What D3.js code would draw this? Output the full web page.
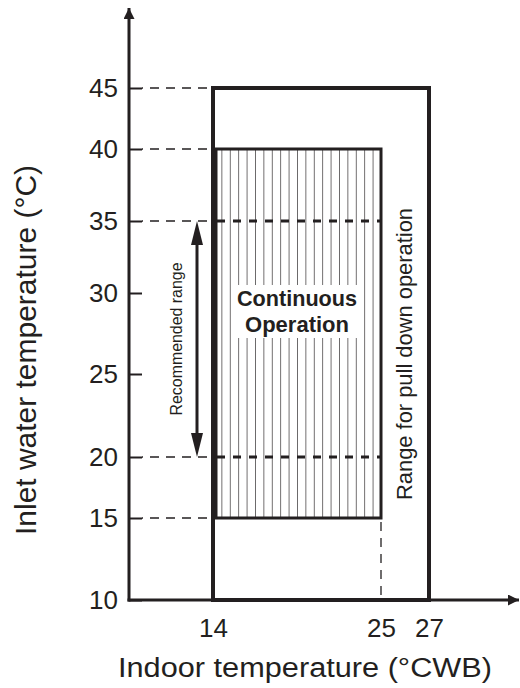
<!DOCTYPE html>
<html>
<head>
<meta charset="utf-8">
<script src="https://cdn.jsdelivr.net/npm/d3@7"></script>
<style>
  body { margin: 0; background: #fff; }
  text { font-family: Arial, "Liberation Sans", sans-serif; fill: #231f20; }
</style>
</head>
<body>
<svg id="chart"></svg>
<script>
// chart values
const yTicks = [10, 15, 20, 25, 30, 35, 40, 45];
const xTicks = [14, 25, 27];
const pullDownX = [14, 27];
const pullDownY = [10, 45];
const continuousX = [14, 25];
const continuousY = [15, 40];
const recommendedY = [20, 35];
const guideY = [45, 40, 35, 20, 15];
const guideX = [25];
const xTitle = "Indoor temperature (°CWB)";
const yTitle = "Inlet water temperature (°C)";
const continuousLabel = ["Continuous", "Operation"];
const recommendedLabel = "Recommended range";
const pullDownLabel = "Range for pull down operation";

const w = 520;
const h = 688;
const ink = "#231f20";
const originX = 129;
const originY = 600;

// the drawing's axes are not evenly spaced, so the scales are piecewise
const yScale = d3.scaleLinear()
  .domain(yTicks)
  .range([600, 518, 457, 374, 293, 221, 149, 88]);

const xScale = d3.scaleLinear()
  .domain(xTicks)
  .range([213, 381, 429]);

const svg = d3.select("#chart").attr("width", w).attr("height", h);
const defs = svg.append("defs");

defs.append("pattern")
  .attr("id", "hatch")
  .attr("patternUnits", "userSpaceOnUse")
  .attr("x", xScale(continuousX[0]))
  .attr("y", 0)
  .attr("width", (xScale(continuousX[1]) - xScale(continuousX[0])) / 20)
  .attr("height", 10)
  .append("line")
  .attr("x1", 0).attr("x2", 0)
  .attr("y1", 0).attr("y2", 10)
  .attr("stroke", ink)
  .attr("stroke-width", 1.3);

function arrowMarker(id, len, wid, back) {
  defs.append("marker")
    .attr("id", id)
    .attr("markerUnits", "userSpaceOnUse")
    .attr("viewBox", `0 0 ${len} ${wid}`)
    .attr("markerWidth", len)
    .attr("markerHeight", wid)
    .attr("refX", len - back)
    .attr("refY", wid / 2)
    .attr("orient", "auto-start-reverse")
    .append("path")
    .attr("d", `M0,0L${len},${wid / 2}L0,${wid}Z`)
    .attr("fill", ink);
}
arrowMarker("axisArrow", 11, 11, 0);
arrowMarker("rangeArrow", 24, 12, 8);

// dashed guide lines
const tickLen = 13;
svg.selectAll(".guide-out")
  .data(guideY)
  .enter()
  .append("line")
  .attr("class", "guide-out")
  .attr("x1", originX + tickLen)
  .attr("x2", xScale(pullDownX[0]))
  .attr("y1", (d) => yScale(d))
  .attr("y2", (d) => yScale(d))
  .attr("stroke", ink)
  .attr("stroke-width", 1.3)
  .attr("stroke-dasharray", "9,7")
  .attr("stroke-dashoffset", -8);

// hatched continuous region
svg.append("rect")
  .attr("x", xScale(continuousX[0]))
  .attr("y", yScale(continuousY[1]))
  .attr("width", xScale(continuousX[1]) - xScale(continuousX[0]))
  .attr("height", yScale(continuousY[0]) - yScale(continuousY[1]))
  .attr("fill", "url(#hatch)");

svg.selectAll(".guide-in")
  .data(guideY.filter((d) => d > continuousY[0] && d < continuousY[1]))
  .enter()
  .append("line")
  .attr("class", "guide-in")
  .attr("x1", xScale(continuousX[0]))
  .attr("x2", xScale(continuousX[1]))
  .attr("y1", (d) => yScale(d))
  .attr("y2", (d) => yScale(d))
  .attr("stroke", ink)
  .attr("stroke-width", 3)
  .attr("stroke-dasharray", "8,8")
  .attr("stroke-dashoffset", -4);

svg.selectAll(".guide-x")
  .data(guideX)
  .enter()
  .append("line")
  .attr("x1", (d) => xScale(d))
  .attr("x2", (d) => xScale(d))
  .attr("y1", yScale(continuousY[0]))
  .attr("y2", yScale(pullDownY[0]))
  .attr("stroke", ink)
  .attr("stroke-width", 1.3)
  .attr("stroke-dasharray", "9,7")
  .attr("stroke-dashoffset", -4);

// label on white box
const cx = (xScale(continuousX[0]) + xScale(continuousX[1])) / 2;
const labelBox = svg.append("rect").attr("fill", "#fff");
const label = svg.append("text")
  .attr("text-anchor", "middle")
  .attr("font-weight", "bold")
  .attr("font-size", 22);
label.selectAll("tspan")
  .data(continuousLabel)
  .enter()
  .append("tspan")
  .attr("x", cx)
  .attr("y", (d, i) => 306 + i * 26)
  .attr("textLength", (d, i) => (i === 0 ? 120 : 104))
  .attr("lengthAdjust", "spacingAndGlyphs")
  .text((d) => d);
const bb = label.node().getBBox();
labelBox
  .attr("x", bb.x - 4)
  .attr("y", bb.y - 1)
  .attr("width", bb.width + 8)
  .attr("height", bb.height + 2);

// outlines
svg.append("rect")
  .attr("x", xScale(pullDownX[0]))
  .attr("y", yScale(pullDownY[1]))
  .attr("width", xScale(pullDownX[1]) - xScale(pullDownX[0]))
  .attr("height", yScale(pullDownY[0]) - yScale(pullDownY[1]))
  .attr("fill", "none")
  .attr("stroke", ink)
  .attr("stroke-width", 4);

svg.append("rect")
  .attr("x", xScale(continuousX[0]))
  .attr("y", yScale(continuousY[1]))
  .attr("width", xScale(continuousX[1]) - xScale(continuousX[0]))
  .attr("height", yScale(continuousY[0]) - yScale(continuousY[1]))
  .attr("fill", "none")
  .attr("stroke", ink)
  .attr("stroke-width", 3);

svg.append("line")
  .attr("x1", xScale(continuousX[0]) + 3)
  .attr("x2", xScale(continuousX[0]) + 3)
  .attr("y1", yScale(continuousY[1]))
  .attr("y2", yScale(continuousY[0]))
  .attr("stroke", ink)
  .attr("stroke-width", 3);

// recommended range arrow
const arrowX = xScale(continuousX[0]) - 16;
svg.append("line")
  .attr("x1", arrowX).attr("x2", arrowX)
  .attr("y1", yScale(recommendedY[1]) + 8)
  .attr("y2", yScale(recommendedY[0]) - 8)
  .attr("stroke", ink)
  .attr("stroke-width", 3)
  .attr("marker-start", "url(#rangeArrow)")
  .attr("marker-end", "url(#rangeArrow)");

const recMid = (yScale(recommendedY[0]) + yScale(recommendedY[1])) / 2;
svg.append("text")
  .attr("transform", `translate(${arrowX - 15},${recMid}) rotate(-90)`)
  .attr("text-anchor", "middle")
  .attr("font-size", 16)
  .attr("textLength", 153)
  .attr("lengthAdjust", "spacingAndGlyphs")
  .text(recommendedLabel);

svg.append("text")
  .attr("transform", `translate(${xScale(continuousX[1]) + 31},354) rotate(-90)`)
  .attr("text-anchor", "middle")
  .attr("font-size", 22)
  .attr("textLength", 292)
  .attr("lengthAdjust", "spacingAndGlyphs")
  .text(pullDownLabel);

// axes
const yAxis = d3.axisLeft(yScale)
  .tickValues(yTicks)
  .tickSize(-tickLen)
  .tickPadding(11);
const gy = svg.append("g")
  .attr("transform", "translate(" + originX + ",0)")
  .call(yAxis);
gy.select(".domain").remove();
gy.selectAll(".tick line").attr("stroke", ink).attr("stroke-width", 2);
gy.selectAll(".tick text").attr("font-size", 26).attr("fill", ink);

const xAxis = d3.axisBottom(xScale)
  .tickValues(xTicks)
  .tickSize(0)
  .tickPadding(19);
const gx = svg.append("g")
  .attr("transform", "translate(0," + originY + ")")
  .call(xAxis);
gx.select(".domain").remove();
gx.selectAll(".tick text").attr("font-size", 26).attr("fill", ink);

svg.append("line")
  .attr("x1", originX).attr("x2", originX)
  .attr("y1", originY + 1.5).attr("y2", 8)
  .attr("stroke", ink)
  .attr("stroke-width", 3)
  .attr("marker-end", "url(#axisArrow)");

svg.append("line")
  .attr("x1", originX - 1.5).attr("x2", w - 1)
  .attr("y1", originY).attr("y2", originY)
  .attr("stroke", ink)
  .attr("stroke-width", 3)
  .attr("marker-end", "url(#axisArrow)");

svg.append("text")
  .attr("x", (118 + 492) / 2)
  .attr("y", 677)
  .attr("text-anchor", "middle")
  .attr("font-size", 27)
  .attr("textLength", 374)
  .attr("lengthAdjust", "spacingAndGlyphs")
  .text(xTitle);

svg.append("text")
  .attr("transform", "translate(36,350) rotate(-90)")
  .attr("text-anchor", "middle")
  .attr("font-size", 30)
  .attr("textLength", 370)
  .attr("lengthAdjust", "spacingAndGlyphs")
  .text(yTitle);
</script>
</body>
</html>
